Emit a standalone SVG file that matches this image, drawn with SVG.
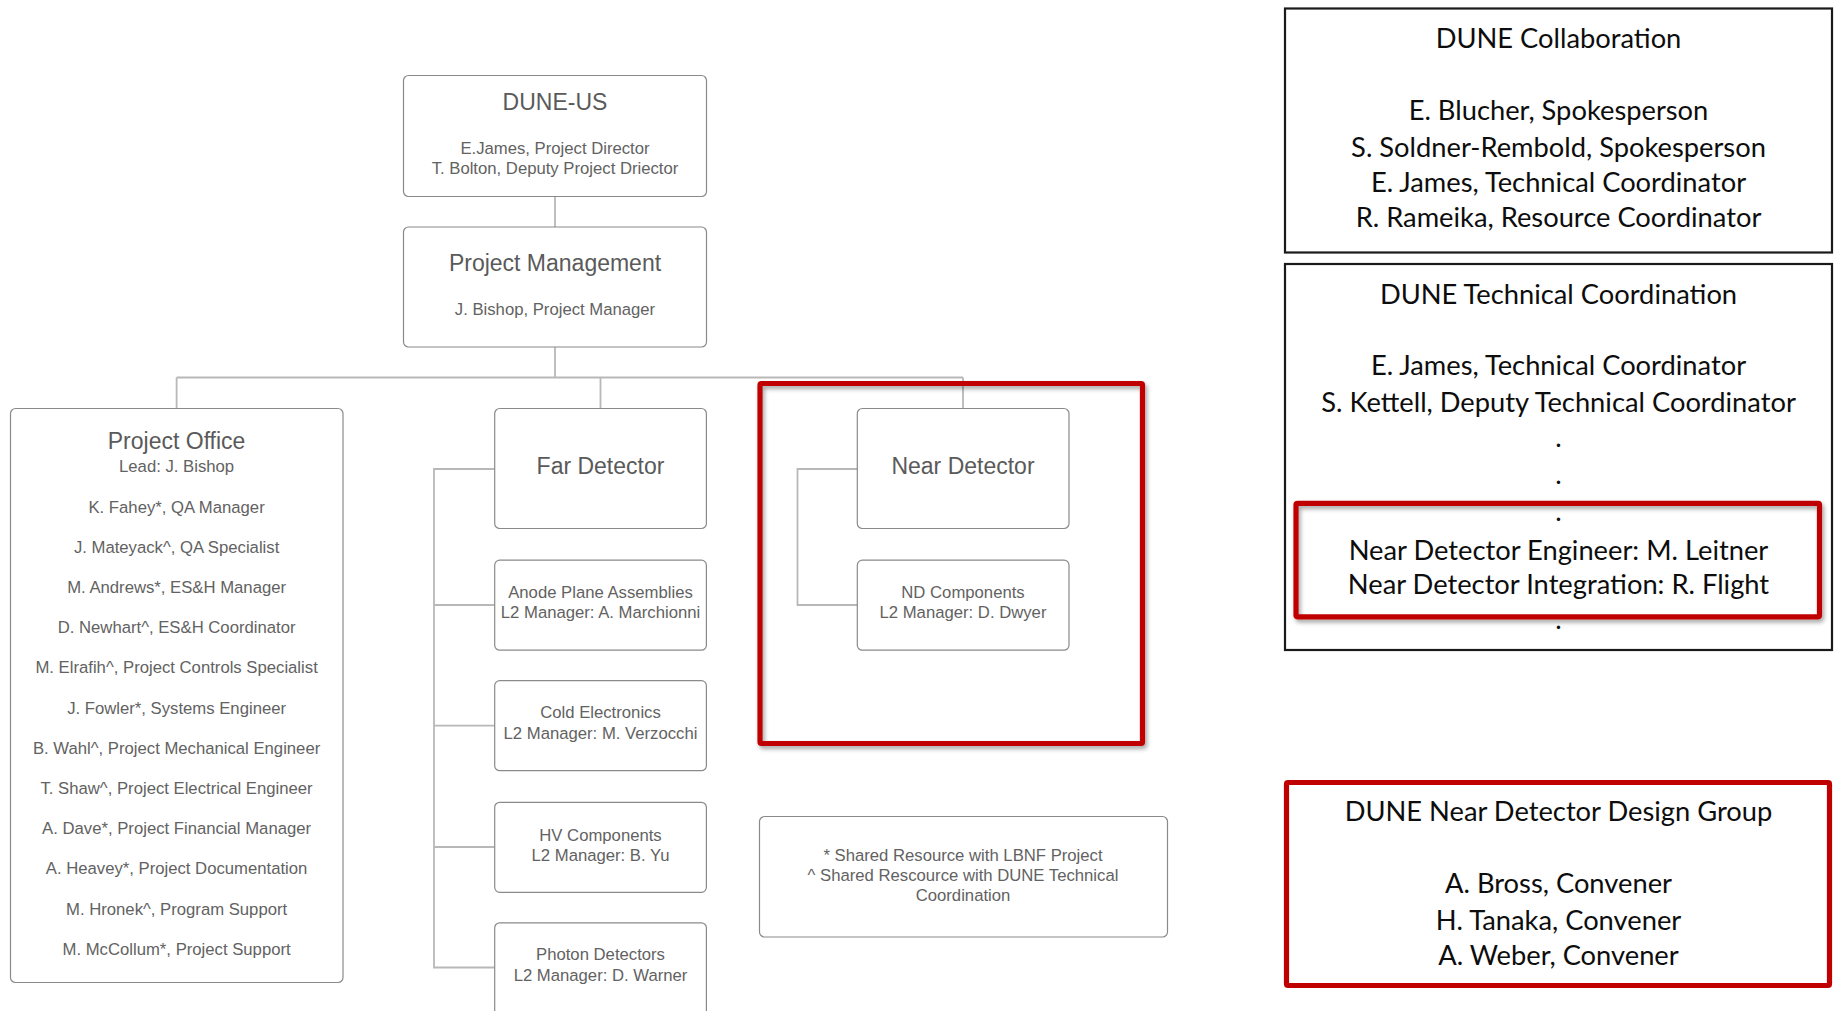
<svg xmlns="http://www.w3.org/2000/svg" width="1834" height="1011" viewBox="0 0 1834 1011">
<style>
.box{fill:#fff;stroke:#8a8a8a;stroke-width:1.2}
.conn{fill:none;stroke:#b8b8b8;stroke-width:1.8}
.t{font-family:"Liberation Sans",Arial,sans-serif;fill:#5a5a5a;text-anchor:middle}
.h{font-size:23px}
.s{font-size:16.7px;fill:#626262}
.blk{fill:#fff;stroke:#1a1a1a;stroke-width:2.2}
.red{fill:none;stroke:#c00000;stroke-width:5.2}
.c{font-family:Lato,"Open Sans",sans-serif;font-size:27.3px;fill:#0d0d0d;text-anchor:middle}
</style>
<defs>
<filter id="sh" x="-5%" y="-5%" width="112%" height="115%">
<feDropShadow dx="2" dy="3" stdDeviation="2" flood-color="#000" flood-opacity="0.35"/>
</filter>
</defs>
<rect width="1834" height="1011" fill="#fff"/>

<g id="connectors">
<path class="conn" d="M555 196V227M555 347V377.5M176.6 377.5H963M176.6 377.5V408.5M600.5 377.5V408.5M963 377.5V408.5"/>
<path class="conn" d="M494.7 469H434V967.5H494.7M434 605H494.7M434 725.7H494.7M434 847H494.7"/>
<path class="conn" d="M857.3 469H797.5V605H857.3"/>
</g>

<g id="dune-us">
<rect class="box" x="403.5" y="75.5" width="303" height="121" rx="5"/>
<text class="t h" x="555" y="110">DUNE-US</text>
<text class="t s" x="555" y="153.5">E.James, Project Director</text>
<text class="t s" x="555" y="173.5">T. Bolton, Deputy Project Driector</text>
</g>

<g id="project-management">
<rect class="box" x="403.5" y="227" width="303" height="120" rx="5"/>
<text class="t h" x="555" y="271">Project Management</text>
<text class="t s" x="555" y="315">J. Bishop, Project Manager</text>
</g>

<g id="project-office">
<rect class="box" x="10.5" y="408.5" width="332.5" height="574" rx="5"/>
<text class="t h" x="176.6" y="448.5">Project Office</text>
<text class="t s" x="176.6" y="472">Lead: J. Bishop</text>
<text class="t s" x="176.6" y="512.5">K. Fahey*, QA Manager</text>
<text class="t s" x="176.6" y="552.7">J. Mateyack^, QA Specialist</text>
<text class="t s" x="176.6" y="592.9">M. Andrews*, ES&amp;H Manager</text>
<text class="t s" x="176.6" y="633.1">D. Newhart^, ES&amp;H Coordinator</text>
<text class="t s" x="176.6" y="673.3">M. Elrafih^, Project Controls Specialist</text>
<text class="t s" x="176.6" y="713.5">J. Fowler*, Systems Engineer</text>
<text class="t s" x="176.6" y="753.7">B. Wahl^, Project Mechanical Engineer</text>
<text class="t s" x="176.6" y="793.9">T. Shaw^, Project Electrical Engineer</text>
<text class="t s" x="176.6" y="834.1">A. Dave*, Project Financial Manager</text>
<text class="t s" x="176.6" y="874.3">A. Heavey*, Project Documentation</text>
<text class="t s" x="176.6" y="914.5">M. Hronek^, Program Support</text>
<text class="t s" x="176.6" y="954.7">M. McCollum*, Project Support</text>
</g>

<g id="far-detector">
<rect class="box" x="494.7" y="408.5" width="211.7" height="120" rx="5"/>
<text class="t h" x="600.5" y="474">Far Detector</text>
</g>

<g id="apa">
<rect class="box" x="494.7" y="560.2" width="211.7" height="90" rx="5"/>
<text class="t s" x="600.5" y="597.5">Anode Plane Assemblies</text>
<text class="t s" x="600.5" y="618">L2 Manager: A. Marchionni</text>
</g>

<g id="cold-electronics">
<rect class="box" x="494.7" y="680.7" width="211.7" height="90" rx="5"/>
<text class="t s" x="600.5" y="718">Cold Electronics</text>
<text class="t s" x="600.5" y="738.5">L2 Manager: M. Verzocchi</text>
</g>

<g id="hv-components">
<rect class="box" x="494.7" y="802.3" width="211.7" height="90" rx="5"/>
<text class="t s" x="600.5" y="841">HV Components</text>
<text class="t s" x="600.5" y="861">L2 Manager: B. Yu</text>
</g>

<g id="photon-detectors">
<rect class="box" x="494.7" y="922.8" width="211.7" height="100" rx="5"/>
<text class="t s" x="600.5" y="960">Photon Detectors</text>
<text class="t s" x="600.5" y="980.5">L2 Manager: D. Warner</text>
</g>

<g id="near-detector-highlight">
<rect class="red" x="760" y="383.5" width="382.5" height="360" rx="1.5" filter="url(#sh)"/>
</g>

<g id="near-detector">
<rect class="box" x="857.3" y="408.5" width="211.7" height="120" rx="5"/>
<text class="t h" x="963" y="474">Near Detector</text>
</g>

<g id="nd-components">
<rect class="box" x="857.3" y="560.2" width="211.7" height="90" rx="5"/>
<text class="t s" x="963" y="597.5">ND Components</text>
<text class="t s" x="963" y="617.5">L2 Manager: D. Dwyer</text>
</g>

<g id="footnote">
<rect class="box" x="759.5" y="816.5" width="408" height="120.5" rx="5"/>
<text class="t s" x="963" y="860.5">* Shared Resource with LBNF Project</text>
<text class="t s" x="963" y="881">^ Shared Rescource with DUNE Technical</text>
<text class="t s" x="963" y="900.5">Coordination</text>
</g>

<g id="dune-collaboration">
<rect class="blk" x="1285" y="8.5" width="547" height="244"/>
<text class="c" x="1558.5" y="47.5">DUNE Collaboration</text>
<text class="c" x="1558.5" y="119.5">E. Blucher, Spokesperson</text>
<text class="c" x="1558.5" y="157">S. Soldner-Rembold, Spokesperson</text>
<text class="c" x="1558.5" y="192">E. James, Technical Coordinator</text>
<text class="c" x="1558.5" y="226.5">R. Rameika, Resource Coordinator</text>
</g>

<g id="dune-technical-coordination">
<rect class="blk" x="1285" y="264" width="547" height="386"/>
<text class="c" x="1558.5" y="303.5">DUNE Technical Coordination</text>
<text class="c" x="1558.5" y="375">E. James, Technical Coordinator</text>
<text class="c" x="1558.5" y="412">S. Kettell, Deputy Technical Coordinator</text>
<text class="c" x="1558.5" y="447">.</text>
<text class="c" x="1558.5" y="484">.</text>
<text class="c" x="1558.5" y="521">.</text>
<text class="c" x="1558.5" y="559.5">Near Detector Engineer: M. Leitner</text>
<text class="c" x="1558.5" y="594">Near Detector Integration: R. Flight</text>
<text class="c" x="1558.5" y="629">.</text>
</g>

<g id="nd-engineering-highlight">
<rect class="red" x="1296" y="503.3" width="523.5" height="113.5" rx="1.5" filter="url(#sh)"/>
</g>

<g id="dune-nd-design-group">
<rect class="red" x="1286.5" y="782.5" width="543" height="203" rx="1.5" style="fill:#fff"/>
<text class="c" x="1558.5" y="821">DUNE Near Detector Design Group</text>
<text class="c" x="1558.5" y="893">A. Bross, Convener</text>
<text class="c" x="1558.5" y="929.5">H. Tanaka, Convener</text>
<text class="c" x="1558.5" y="964.5">A. Weber, Convener</text>
</g>
</svg>
